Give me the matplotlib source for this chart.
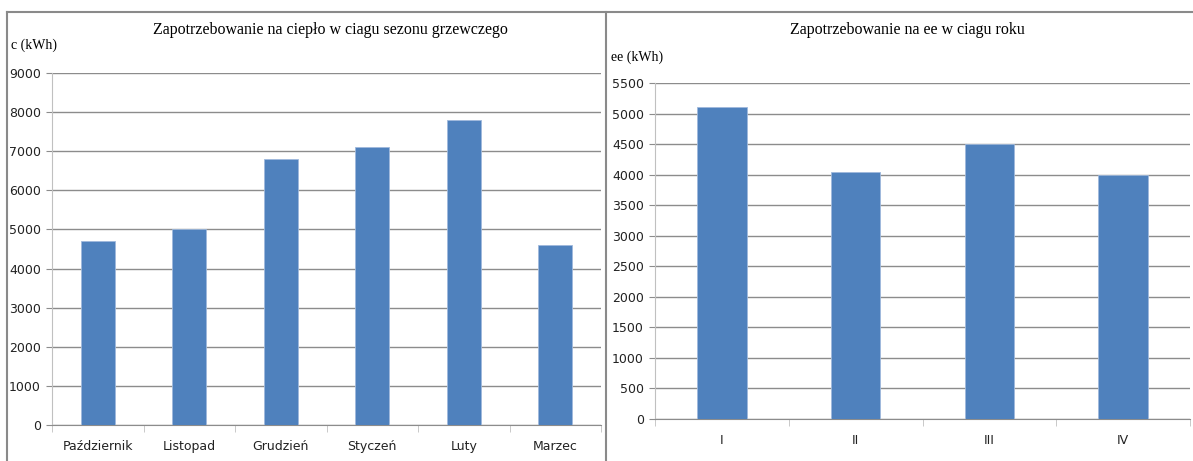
import numpy as np
import matplotlib.pyplot as plt
from matplotlib.lines import Line2D

# dane - cieplo (sezon grzewczy)
miesiace = ['Październik', 'Listopad', 'Grudzień', 'Styczeń', 'Luty', 'Marzec']
cieplo = [4700, 5000, 6800, 7100, 7800, 4600]

# dane - energia elektryczna (kwartaly)
kwartaly = ['I', 'II', 'III', 'IV']
ee = [5100, 4050, 4500, 4000]

kolor = '#4f81bd'
siatka = '#8c8c8c'
os_kolor = '#c0c0c0'
tick_font = ['Liberation Sans Narrow', 'DejaVu Sans']
serif = ['Liberation Serif', 'DejaVu Serif']

fig = plt.figure(figsize=(11.93, 4.61), dpi=100)
W, H = 1193, 461


def rect(x0, y0, x1, y1):
    return [x0 / W, 1 - y1 / H, (x1 - x0) / W, (y1 - y0) / H]


def rysuj(ax, kat, wart, ymax, krok):
    x = np.arange(len(kat))
    ax.bar(x, wart, width=0.37, color=kolor, edgecolor='#9fb9dc', linewidth=0.6, zorder=3)
    ax.set_xlim(-0.5, len(kat) - 0.5)
    ax.set_ylim(0, ymax)
    ax.set_yticks(np.arange(0, ymax + 1, krok))
    ax.grid(axis='y', color=siatka, linewidth=1.0, zorder=0)
    for s in ['top', 'right']:
        ax.spines[s].set_visible(False)
    ax.spines['left'].set_color(os_kolor)
    ax.spines['bottom'].set_color(siatka)
    ax.set_xticks(x)
    ax.set_xticklabels(kat)
    ax.set_xticks(np.arange(-0.5, len(kat)), minor=True)
    ax.tick_params(axis='x', which='major', length=0, pad=11, labelsize=9, colors='#222222')
    ax.tick_params(axis='x', which='minor', length=5, color=os_kolor)
    ax.tick_params(axis='y', length=4, color=siatka, labelsize=9, pad=4, colors='#222222')
    for t in ax.get_xticklabels() + ax.get_yticklabels():
        t.set_family(tick_font)


ax1 = fig.add_axes(rect(52, 73, 601, 425))
rysuj(ax1, miesiace, cieplo, 9000, 1000)

ax2 = fig.add_axes(rect(655, 83, 1190, 419))
rysuj(ax2, kwartaly, ee, 5500, 500)

fig.text(330 / W, 1 - 30 / H, 'Zapotrzebowanie na ciepło w ciagu sezonu grzewczego',
         ha='center', va='center', fontsize=11.5, family=serif)
fig.text(907 / W, 1 - 30 / H, 'Zapotrzebowanie na ee w ciagu roku',
         ha='center', va='center', fontsize=11.5, family=serif)
fig.text(11 / W, 1 - 45 / H, 'c (kWh)', ha='left', va='center', fontsize=10, family=serif)
fig.text(611 / W, 1 - 57 / H, 'ee (kWh)', ha='left', va='center', fontsize=10, family=serif)

# ramki wykresow
ramka = '#8a8a8a'
fig.add_artist(Line2D([7 / W, 1], [1 - 12 / H, 1 - 12 / H], color=ramka, linewidth=1.5))
fig.add_artist(Line2D([7 / W, 7 / W], [0, 1 - 12 / H], color=ramka, linewidth=1.5))
fig.add_artist(Line2D([606 / W, 606 / W], [0, 1 - 12 / H], color=ramka, linewidth=1.5))

fig.savefig('out.png', dpi=100)
